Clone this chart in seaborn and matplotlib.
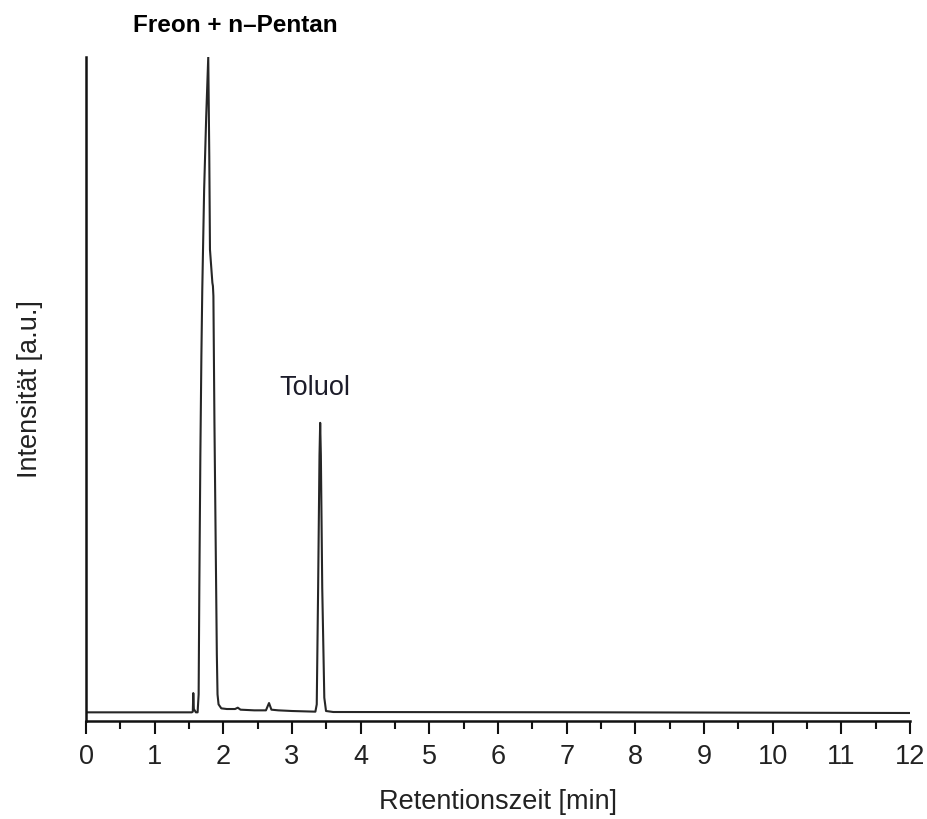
import matplotlib
matplotlib.use("Agg")
import matplotlib.pyplot as plt
from matplotlib.ticker import MultipleLocator
import seaborn as sns
import pandas as pd

# Chromatogram trace: retention time [min] and detector signal [a.u.]
retention_time = [
    0.00, 1.540, 1.555, 1.562, 1.570, 1.600, 1.625, 1.640, 1.650, 1.665,
    1.680, 1.693, 1.720, 1.750, 1.780, 1.795, 1.805, 1.840, 1.848, 1.855,
    1.870, 1.890, 1.905, 1.915, 1.930, 1.970, 2.050, 2.170, 2.210, 2.250,
    2.450, 2.620, 2.665, 2.700, 2.800, 3.000, 3.340, 3.360, 3.380, 3.400,
    3.410, 3.420, 3.440, 3.470, 3.495, 3.600, 7.500, 12.00,
]
intensity = [
    1.3, 1.3, 1.4, 4.2, 1.8, 1.3, 1.3, 4.0, 20.0, 40.0,
    55.0, 65.0, 80.0, 91.0, 100.0, 85.0, 71.0, 66.0, 65.5, 64.0,
    45.0, 25.0, 10.0, 4.0, 2.5, 1.9, 1.8, 1.8, 2.0, 1.7,
    1.6, 1.6, 2.7, 1.7, 1.6, 1.5, 1.4, 2.5, 20.0, 40.0,
    44.9, 40.0, 20.0, 3.5, 1.5, 1.35, 1.3, 1.2,
]

# Peak labels: text, x, y
peak_labels = ["Freon + n–Pentan", "Toluol"]
label_x = [2.17, 3.335]
label_y = [104.8, 50.2]

x_ticks = list(range(0, 13))

df = pd.DataFrame({"t": retention_time, "signal": intensity})

sns.set_theme(style="ticks")
plt.rcParams["font.family"] = ["Liberation Sans", "DejaVu Sans"]

fig = plt.figure(figsize=(9.27, 8.19), dpi=100)
ax = fig.add_axes([0.0928, 0.1197, 0.8889, 0.8107])

sns.lineplot(data=df, x="t", y="signal", ax=ax, color="#262626",
             linewidth=1.5, estimator=None, sort=False)

ax.set_xlim(0, 12)
ax.set_ylim(0, 100)
ax.set_xticks(x_ticks)
ax.set_xticklabels([str(v) for v in x_ticks])
ax.xaxis.set_minor_locator(MultipleLocator(0.5))
ax.set_yticks([])

for side in ("top", "right"):
    ax.spines[side].set_visible(False)
for side in ("left", "bottom"):
    ax.spines[side].set_linewidth(1.8)
    ax.spines[side].set_color("#111111")

ax.tick_params(axis="x", which="major", direction="out", length=9.5, width=1.5,
               colors="#111111", labelsize=19.5, pad=7, labelcolor="#222222")
ax.tick_params(axis="x", which="minor", direction="out", length=5.5, width=1.5,
               colors="#111111")

ax.set_xlabel("Retentionszeit [min]", fontsize=19.5, color="#222222", labelpad=14)
ax.set_ylabel("Intensität [a.u.]", fontsize=19.5, color="#222222", labelpad=31)

ax.text(label_x[0], label_y[0], peak_labels[0], ha="center", va="center",
        fontsize=17.5, fontweight="bold", color="black", clip_on=False,
        family=["Liberation Sans Narrow", "Liberation Sans", "DejaVu Sans"])
ax.text(label_x[1], label_y[1], peak_labels[1], ha="center", va="center",
        fontsize=19.5, color="#1c1c2a", clip_on=False)

fig.savefig("out.png", dpi=100)
